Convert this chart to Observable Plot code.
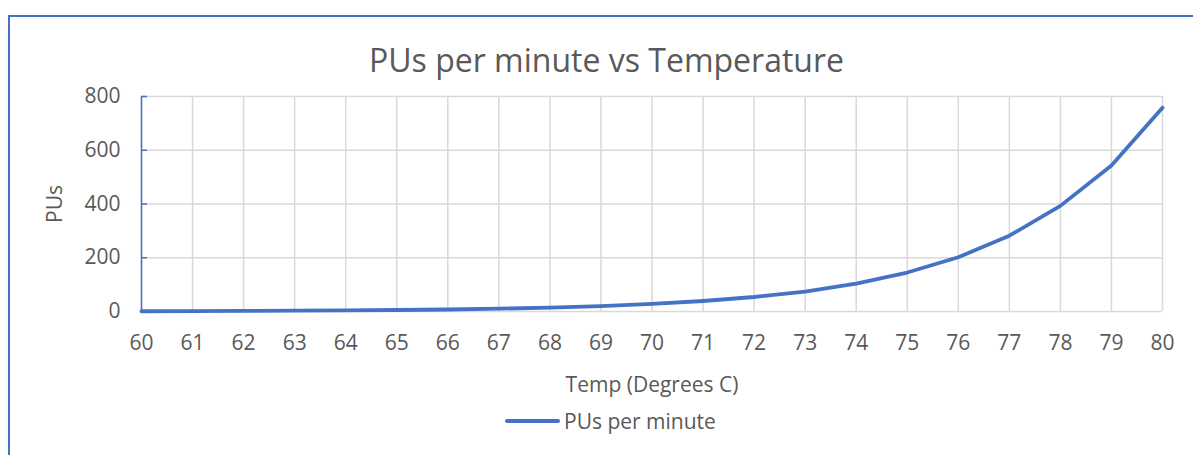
<!DOCTYPE html>
<html>
<head>
<meta charset="utf-8">
<script src="https://cdn.jsdelivr.net/npm/d3@7"></script>
<script src="https://cdn.jsdelivr.net/npm/@observablehq/plot@0.6"></script>
<style>
  html, body { margin: 0; padding: 0; background: #fff; }
  #wrap { position: relative; width: 1193px; height: 455px; overflow: hidden; font-family: "Open Sans", sans-serif; color: #595959; }
  #bl { position: absolute; left: 8px; top: 15px; width: 1.5px; height: 440px; background: #4472c4; }
  #bt { position: absolute; left: 8px; top: 15px; width: 1185px; height: 1.5px; background: #4472c4; }
  #title { position: absolute; left: 0; top: 40px; width: 1213px; text-align: center; font-size: 32px; line-height: 40px; color: #595959; }
  #chart { position: absolute; left: 0; top: 80px; }
  #legend { position: absolute; left: 505px; top: 407px; height: 28px; display: flex; align-items: center; font-size: 21px; color: #595959; }
  #legend .sw { width: 55px; height: 4px; background: #4472c4; border-radius: 2px; margin-right: 4px; }
</style>
</head>
<body>
<div id="wrap">
  <div id="bl"></div>
  <div id="bt"></div>
  <div id="title">PUs per minute vs Temperature</div>
  <div id="chart"></div>
  <div id="legend"><span class="sw"></span><span id="legtext"></span></div>
</div>
<script>
const seriesName = "PUs per minute";
const temps = [60, 61, 62, 63, 64, 65, 66, 67, 68, 69, 70, 71, 72, 73, 74, 75, 76, 77, 78, 79, 80];
const pus   = [1, 1.5, 2, 3, 4, 5.5, 7.5, 10.5, 14.5, 20, 28, 39, 54, 74, 104, 145, 202, 282, 393, 543, 758];
const xTicks = [60, 61, 62, 63, 64, 65, 66, 67, 68, 69, 70, 71, 72, 73, 74, 75, 76, 77, 78, 79, 80];
const yTicks = [0, 200, 400, 600, 800];
const xLabel = "Temp (Degrees C)";
const yLabel = "PUs";

const data = temps.map((t, i) => ({temp: t, pus: pus[i]}));
const blue = "#4472c4";
const grid = "#d9d9d9";
const txt = "#595959";

document.getElementById("legtext").textContent = seriesName;

const chart = Plot.plot({
  width: 1193,
  height: 320,
  marginLeft: 141,
  marginRight: 31,
  marginTop: 16,
  marginBottom: 89,
  style: {fontFamily: "'Open Sans', sans-serif", color: txt, background: "transparent", overflow: "visible"},
  x: {domain: [60, 80]},
  y: {domain: [0, 800]},
  marks: [
    Plot.ruleX(xTicks, {stroke: grid, strokeWidth: 1.5}),
    Plot.ruleY(yTicks, {stroke: grid, strokeWidth: 1.5}),
    Plot.ruleX([60], {y1: 0, y2: 800, stroke: blue, strokeWidth: 1.5}),
    Plot.axisX({ticks: xTicks, tickSize: 0, tickPadding: 24, fontSize: 21, tickFormat: d => String(d),
      label: xLabel, labelAnchor: "center", labelArrow: "none", labelOffset: 80}),
    Plot.axisY({ticks: yTicks, tickSize: -6, tickPadding: 27, stroke: blue, strokeWidth: 1.5, fontSize: 21, tickFormat: d => String(d),
      label: yLabel, labelAnchor: "center", labelArrow: "none", labelOffset: 94}),
    Plot.line(data, {x: "temp", y: "pus", stroke: blue, strokeWidth: 3.8, strokeLinejoin: "round", strokeLinecap: "round"})
  ]
});
chart.querySelectorAll("text").forEach(t => t.setAttribute("fill", txt));
document.getElementById("chart").appendChild(chart);
</script>
</body>
</html>
